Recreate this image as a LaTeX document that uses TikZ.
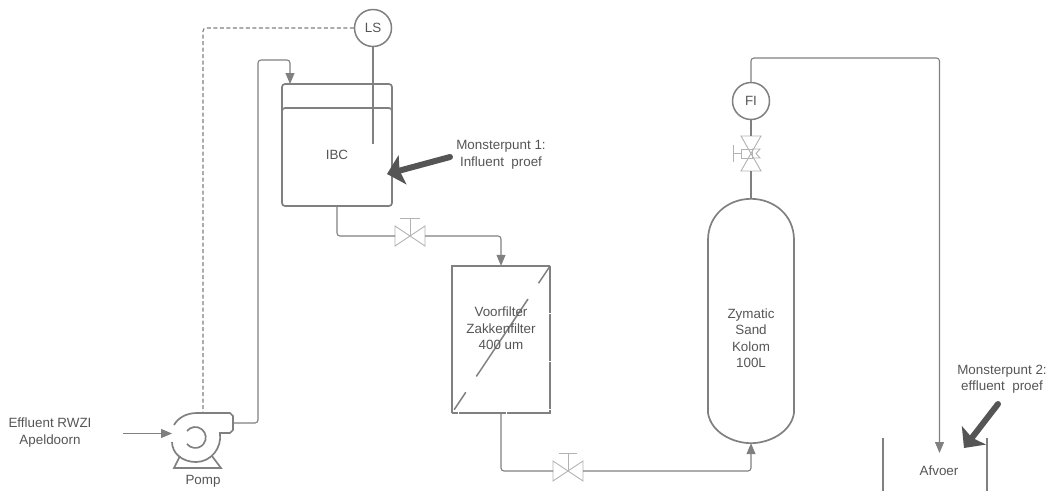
\documentclass[tikz,border=0pt]{standalone}
\usepackage{fontspec}
\setmainfont{Liberation Sans}
\usetikzlibrary{arrows.meta, positioning, calc}
\definecolor{linegray}{RGB}{128,128,128}
\definecolor{valvegray}{RGB}{178,178,178}
\definecolor{textgray}{RGB}{85,85,85}
\definecolor{sampledark}{RGB}{85,85,85}

\begin{document}
\begin{tikzpicture}[
    x=1pt, y=-1pt,
    >={Triangle[length=11pt, width=9pt]},
    pipe/.style={draw=linegray, line width=1.1pt, rounded corners=3pt},
    wall/.style={draw=linegray, line width=1.7pt},
    valvebox/.style={inner sep=0pt, outer sep=0pt, minimum width=30pt, minimum height=20pt},
    instr/.style={circle, draw=linegray, line width=1.5pt, inner sep=0pt, minimum size=37pt, text=textgray, font=\fontsize{13.4}{16.5}\selectfont},
    label/.style={align=center, inner sep=0pt, text=textgray, font=\fontsize{13.4}{16.5}\selectfont},
    sample/.style={draw=sampledark, line width=6pt, line cap=round, -{Stealth[length=16pt, width=30pt, inset=3pt]}},
    valveline/.style={draw=valvegray, line width=0.9pt}
]
  \useasboundingbox (0,0) rectangle (1048,491);

  % IBC
  \node[draw=linegray, line width=1.7pt, rounded corners=3pt, minimum width=110pt, minimum height=122pt, inner sep=0pt] (IBC) at (337,145) {};
  \draw[wall, rounded corners=3pt] (282,112) -- (282,108) -- (392,108) -- (392,112);
  \node[label] (IBCtext) at (337,155) {IBC};

  % instruments
  \node[instr] (LS) at (373,28) {LS};
  \node[instr] (FI) at (751,101) {FI};
  \coordinate (LSend) at (373,144);
  \draw[draw=linegray, line width=1.3pt] (LS) -- (LSend);

  % valves
  \node[valvebox] (V1) at (410,236) {};
  \node[valvebox] (V2) at (568,471) {};
  \node[valvebox, minimum width=20pt, minimum height=35pt] (V3) at (751,153.5) {};
  \draw[valveline] (V1.north west) -- (V1.south east) -- (V1.north east) -- (V1.south west) -- cycle;
  \draw[valveline] (V1.center) -- (410,218) (400,218) -- (420,218);
  \draw[valveline] (V2.north west) -- (V2.south east) -- (V2.north east) -- (V2.south west) -- cycle;
  \draw[valveline] (V2.center) -- (568,453) (559,453) -- (577,453);
  \draw[valveline] (V3.north west) -- (V3.south east) -- (V3.south west) -- (V3.north east) -- cycle;
  \draw[valveline] (741,153.5) -- (733,153.5) (733,145) -- (733,162);
  \draw[valveline] (741,149) rectangle (752,158);
  \draw[valveline] (752,149) -- (760,149) -- (756,153.5) -- (760,158) -- (752,158);

  % filter
  \node[inner sep=0pt, minimum width=98pt, minimum height=147pt] (Filter) at (501,339.5) {};
  \draw[wall] (Filter.south west) -- (Filter.north west) -- (Filter.north east);
  \draw[draw=linegray, line width=1.5pt, dash pattern=on 47pt off 1pt] (Filter.north east) -- (Filter.south east) -- (Filter.south west);
  \draw[draw=linegray, line width=1.5pt, dash pattern=on 21pt off 19pt on 93pt off 19pt] (Filter.north east) -- (Filter.south west);
  \node[label] (Filtertext) at (501,328.5) {Voorfilter\\Zakkenfilter\\400 um};

  % column
  \node[inner sep=0pt, minimum width=86pt, minimum height=244pt] (Kolom) at (751,321) {};
  \draw[wall] (Kolom.north) .. controls (728,199) and (708,215) .. (708,240)
    -- (708,413) .. controls (711,432) and (732,443) .. (Kolom.south)
    .. controls (770,443) and (791,432) .. (794,413)
    -- (794,240) .. controls (794,215) and (774,199) .. (Kolom.north);
  \node[label] (Kolomtext) at (751,338) {Zymatic\\Sand\\Kolom\\100L};

  % pump
  \coordinate (Pompin) at (172,433.5);
  \coordinate (Pompout) at (233,423);
  \coordinate (Pomptop) at (203,413);
  \draw[wall] (174,425) .. controls (178,418) and (186,413) .. (197,413) -- (230,413) -- (233,416) -- (233,430) -- (230,433) -- (220,433)
    .. controls (222,448) and (211,462) .. (196,462) .. controls (182,462) and (172,453) .. (172,442);
  \draw[wall] (187,431) arc[start angle=142, end angle=-142, radius=10.5pt];
  \draw[wall] (180,456) -- (174,468) -- (221,468) -- (212,456);
  \node[label] (Pomplabel) at (203,481) {Pomp};
  \node[label] (Inlet) at (50,432.5) {Effluent RWZI\\Apeldoorn};
  \coordinate (Inletstart) at (123,433.5);

  % pipes
  \draw[pipe, ->] (Inletstart) -- (Pompin);
  \draw[pipe, ->] (Pompout) -| (258,60) -| (290,84);
  \draw[pipe] (IBC.south) |- (V1.west);
  \draw[pipe, ->] (V1.east) -| (Filter.north);
  \draw[pipe] (Filter.south) |- (V2.west);
  \draw[pipe, ->] (V2.east) -| (Kolom.south);
  \draw[pipe] (Kolom.north) -- (V3.south);
  \draw[pipe] (V3.north) -- (FI.south);
  \coordinate (Afvoertip) at (939.5,453);
  \draw[pipe, ->] (FI.north) |- (939.5,58) -- (Afvoertip);
  \draw[pipe, dash pattern=on 4pt off 2.5pt] (LS.west) -| (Pomptop);

  % outlet
  \draw[wall] (883,438) -- (883,491) (987,438) -- (987,491);
  \node[label] (Afvoer) at (939,471) {Afvoer};

  % sample points
  \node[label] (M1) at (501,155) {Monsterpunt 1:\\Influent~~proef};
  \node[label] (M2) at (1002,379) {Monsterpunt 2:\\effluent~~proef};
  \coordinate (M1tip) at (387,174);
  \coordinate (M2tip) at (964,448);
  \draw[sample] (450,157) -- (M1tip);
  \draw[sample] (998,404) -- (M2tip);
\end{tikzpicture}
\end{document}
